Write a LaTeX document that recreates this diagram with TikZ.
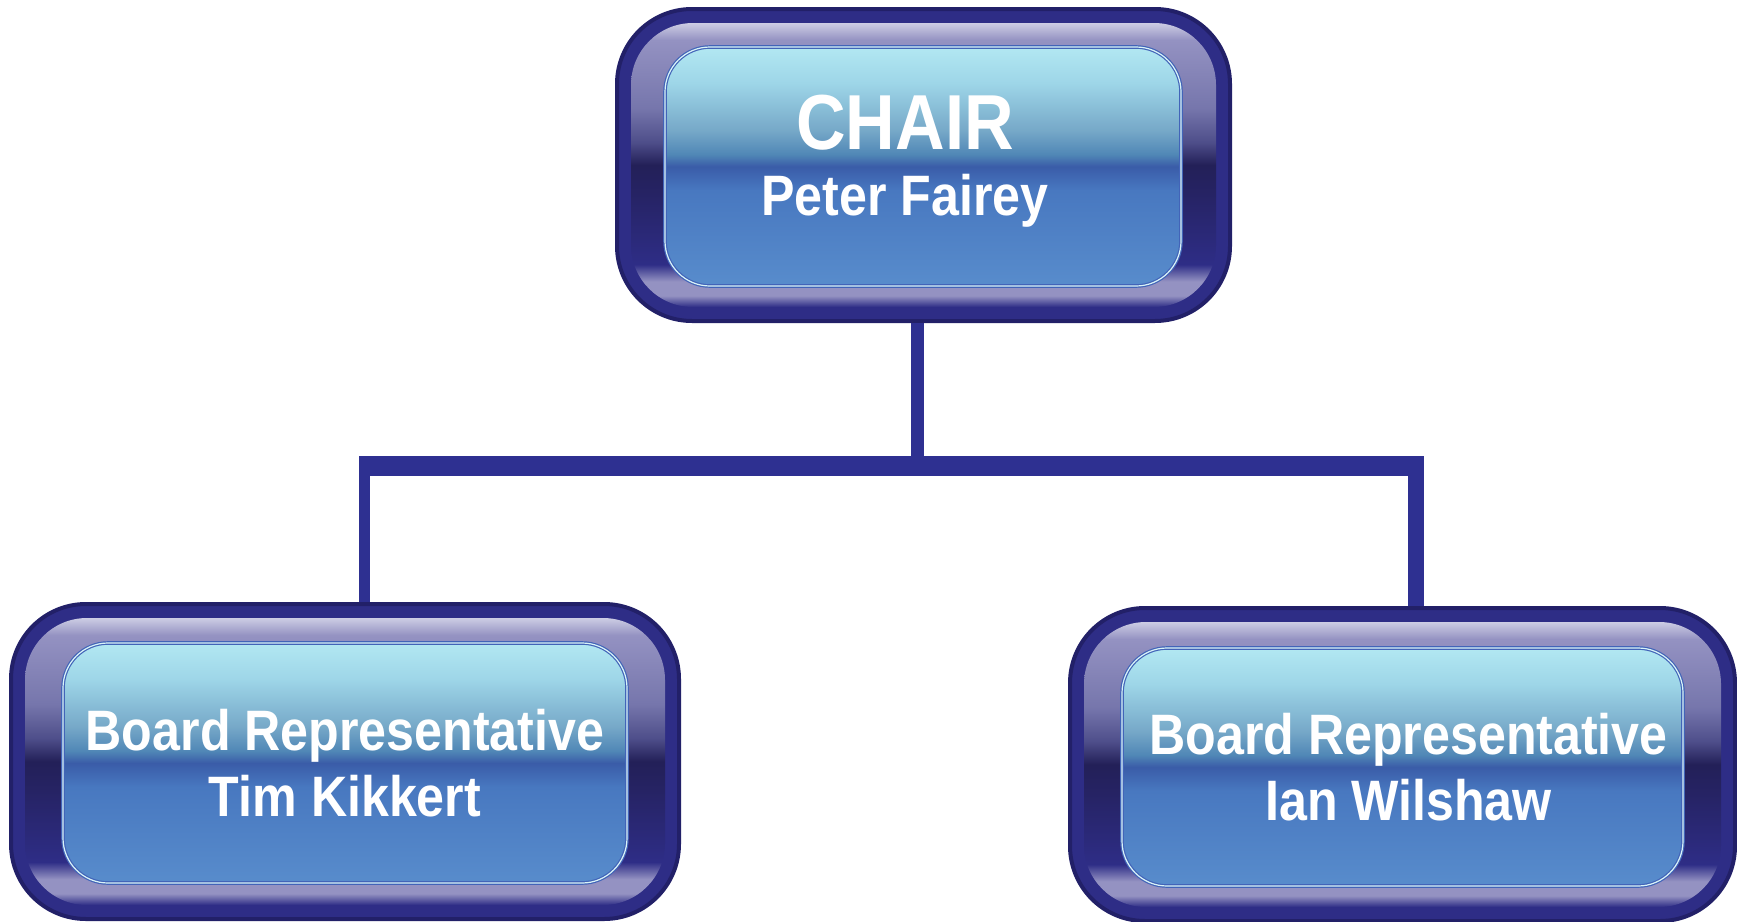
\documentclass[tikz,border=0pt]{standalone}
\usepackage{fontspec}
\newfontfamily\boxfont[FakeStretch=0.88]{Liberation Sans}
\usepackage{tikz}
\definecolor{box_navy}{RGB}{46,45,134}
\definecolor{box_edge}{RGB}{34,32,104}
\definecolor{bus_blue}{RGB}{46,48,145}
\definecolor{frame_pale}{RGB}{205,205,228}
\definecolor{frame_lav}{RGB}{148,146,194}
\definecolor{frame_soft}{RGB}{118,118,172}
\definecolor{frame_mid}{RGB}{78,78,138}
\definecolor{frame_dark}{RGB}{35,32,88}
\definecolor{frame_deep}{RGB}{38,35,100}
\definecolor{face_top}{RGB}{178,232,242}
\definecolor{face_pale}{RGB}{158,214,232}
\definecolor{face_sky}{RGB}{118,168,200}
\definecolor{face_teal}{RGB}{80,135,182}
\definecolor{face_mid}{RGB}{58,92,168}
\definecolor{face_low}{RGB}{72,120,192}
\definecolor{face_bot}{RGB}{88,140,204}
\definecolor{face_rim}{RGB}{66,100,184}

\pgfdeclareverticalshading{frame_shade}{100bp}{color(0bp)=(box_navy); color(25bp)=(box_navy);
  color(27bp)=(frame_lav); color(29.5bp)=(frame_lav); color(32.5bp)=(box_navy);
  color(45bp)=(frame_deep); color(50bp)=(frame_dark); color(54bp)=(frame_mid);
  color(60bp)=(frame_soft); color(72bp)=(frame_lav); color(75bp)=(frame_pale); color(100bp)=(frame_pale)}
\pgfdeclareverticalshading{face_shade}{100bp}{color(0bp)=(face_bot); color(25bp)=(face_bot);
  color(45bp)=(face_low); color(50bp)=(face_mid); color(52.5bp)=(face_teal);
  color(57.5bp)=(face_sky); color(67.5bp)=(face_pale); color(75bp)=(face_top); color(100bp)=(face_top)}

\begin{document}
\begin{tikzpicture}[x=1pt,y=-1pt]
    \tikzstyle{shell}=[draw=box_edge, line width=4pt, fill=box_navy, rounded corners=75pt, inner sep=0pt]
    \tikzstyle{bezel}=[shading=frame_shade, rounded corners=62pt, inner sep=0pt]
    \tikzstyle{glass}=[shading=face_shade, draw=face_rim, line width=1.2pt, double=face_top!50!white, double distance=1.2pt,
                       rounded corners=45pt, inner sep=0pt]
    \tikzstyle{caption}=[text=white, align=center, inner sep=0pt, font=\boxfont\bfseries\fontsize{57}{66}\selectfont]
    \tikzstyle{busline}=[draw=bus_blue, line width=20pt]
    \tikzstyle{stemline}=[draw=bus_blue, line width=13pt]

    \useasboundingbox (0,0) rectangle (1737,921);

    \node[shell, minimum width=613pt, minimum height=312pt] (chair) at (923.5,165) {};
    \node[bezel, minimum width=585pt, minimum height=284pt] (chairbez) at (923.5,165) {};
    \node[glass, minimum width=516pt, minimum height=239pt] (chairface) at (923,166.5) {};
    \node[caption] (chairtxt) at ([xshift=-18pt,yshift=5pt]chairface.center)
        {{\fontsize{78}{80}\selectfont CHAIR}\\Peter Fairey};

    \node[shell, minimum width=668pt, minimum height=315pt] (tim) at (345,761.5) {};
    \node[bezel, minimum width=640pt, minimum height=287pt] (timbez) at (345,761.5) {};
    \node[glass, minimum width=564pt, minimum height=240pt] (timface) at (345,763) {};
    \node[caption] (timtxt) at (timface.center) {Board Representative\\Tim Kikkert};

    \node[shell, minimum width=665pt, minimum height=313pt] (ian) at (1402.5,764.5) {};
    \node[bezel, minimum width=637pt, minimum height=285pt] (ianbez) at (1402.5,764.5) {};
    \node[glass, minimum width=561pt, minimum height=238pt] (ianface) at (1402.5,767) {};
    \node[caption] (iantxt) at ([xshift=6pt]ianface.center) {Board Representative\\Ian Wilshaw};

    \coordinate (busmid) at (917.5,466);
    \coordinate (busleft) at (364.5,466);
    \coordinate (busright) at (1416,466);

    \draw[busline] ([xshift=-5.5pt]busleft) -- ([xshift=8pt]busright);
    \draw[stemline] (chair.south -| busmid) -- ([yshift=-10pt]busmid);
    \draw[stemline, line width=11pt] ([yshift=10pt]busleft) -- (tim.north -| busleft);
    \draw[stemline, line width=16pt] ([yshift=10pt]busright) -- (ian.north -| busright);
\end{tikzpicture}
\end{document}
